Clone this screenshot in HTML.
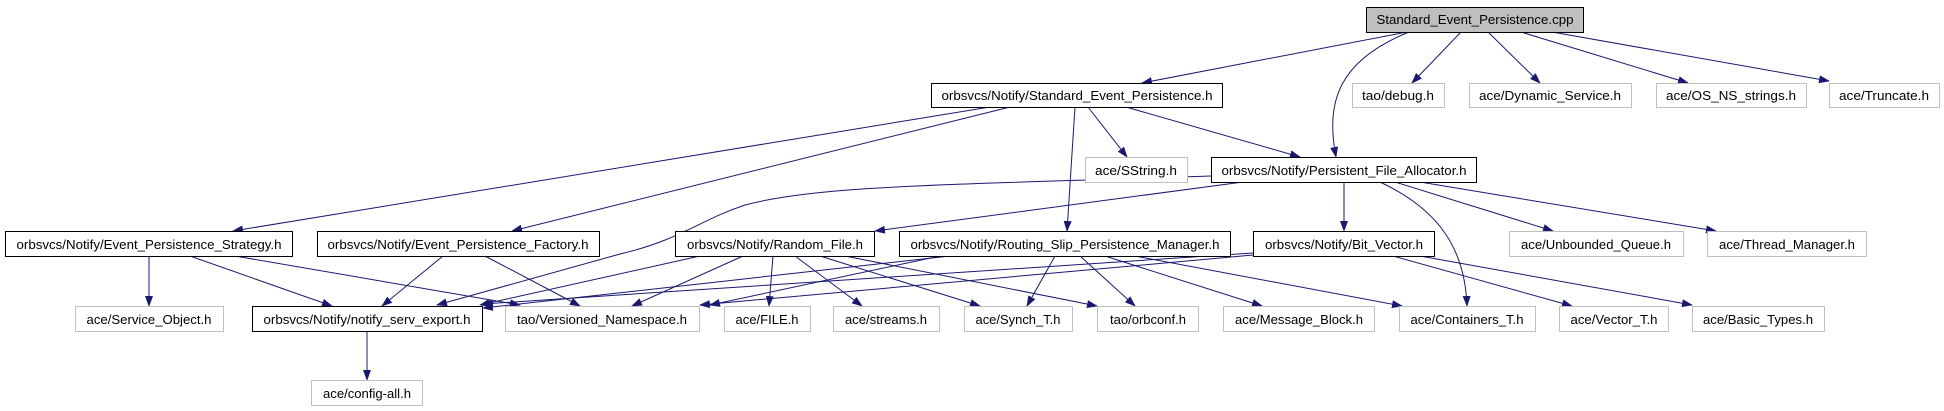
<!DOCTYPE html>
<html><head><meta charset="utf-8"><style>
html,body{margin:0;padding:0;background:#fff;}
svg{display:block;}
text{font-family:"Liberation Sans",Helvetica,Arial,sans-serif;font-size:13px;fill:#000;}
</style></head><body>
<svg width="1944" height="411" viewBox="0 0 1944 411" xmlns="http://www.w3.org/2000/svg">
<defs>
<marker id="a" markerWidth="11" markerHeight="8" refX="10" refY="4" orient="auto" markerUnits="userSpaceOnUse">
<path d="M0,0 L11,4 L0,8 z" fill="#191970"/>
</marker>
</defs>
<g stroke="#191970" stroke-width="1" fill="none" marker-end="url(#a)">
<line x1="1407" y1="32" x2="1142" y2="83"/>
<path d="M1409,32 C1340,60 1325,100 1336,157"/>
<line x1="1461" y1="32" x2="1412" y2="83"/>
<line x1="1488" y1="32" x2="1540" y2="83"/>
<line x1="1521" y1="32" x2="1688" y2="83"/>
<line x1="1552" y1="32" x2="1829" y2="81"/>
<line x1="990" y1="107" x2="233" y2="231"/>
<line x1="1010" y1="107" x2="512" y2="231"/>
<line x1="1075" y1="107" x2="1067" y2="231"/>
<line x1="1088" y1="107" x2="1127" y2="157"/>
<line x1="1126" y1="107" x2="1300" y2="157"/>
<path d="M1211,176 C950,185 820,185 745,205 C700,220 680,240 620,254 L437,305"/>
<line x1="1243" y1="182" x2="875" y2="231"/>
<line x1="1344" y1="182" x2="1344" y2="231"/>
<path d="M1380,182 C1440,210 1465,250 1467,306"/>
<line x1="1395" y1="182" x2="1553" y2="231"/>
<line x1="1420" y1="182" x2="1716" y2="231"/>
<line x1="149" y1="256" x2="149" y2="306"/>
<line x1="190" y1="256" x2="332" y2="306"/>
<line x1="235" y1="256" x2="520" y2="305"/>
<line x1="443" y1="256" x2="382" y2="306"/>
<line x1="485" y1="256" x2="580" y2="306"/>
<line x1="700" y1="256" x2="480" y2="305"/>
<line x1="743" y1="256" x2="632" y2="306"/>
<line x1="773" y1="256" x2="769" y2="306"/>
<line x1="795" y1="256" x2="862" y2="306"/>
<line x1="820" y1="256" x2="980" y2="306"/>
<line x1="845" y1="256" x2="1097" y2="306"/>
<line x1="950" y1="256" x2="483" y2="308"/>
<line x1="940" y1="256" x2="710" y2="305"/>
<line x1="1055" y1="256" x2="1027" y2="306"/>
<line x1="1080" y1="256" x2="1135" y2="306"/>
<line x1="1105" y1="256" x2="1262" y2="306"/>
<line x1="1135" y1="256" x2="1402" y2="306"/>
<line x1="1253" y1="255" x2="700" y2="305"/>
<line x1="1253" y1="253" x2="483" y2="304"/>
<line x1="1393" y1="256" x2="1572" y2="306"/>
<line x1="1420" y1="256" x2="1692" y2="305"/>
<line x1="367" y1="331" x2="367" y2="380"/>
</g>
<g stroke-width="1">
<rect x="1366.5" y="7.5" width="217" height="25" fill="#bfbfbf" stroke="#000"/>
<rect x="931.5" y="83.5" width="291" height="24" fill="#fff" stroke="#000"/>
<rect x="1352.5" y="83.5" width="92" height="24" fill="#fff" stroke="#bfbfbf"/>
<rect x="1469.5" y="83.5" width="162" height="24" fill="#fff" stroke="#bfbfbf"/>
<rect x="1656.5" y="83.5" width="150" height="24" fill="#fff" stroke="#bfbfbf"/>
<rect x="1829.5" y="83.5" width="110" height="24" fill="#fff" stroke="#bfbfbf"/>
<rect x="1085.5" y="157.5" width="102" height="25" fill="#fff" stroke="#bfbfbf"/>
<rect x="1211.5" y="157.5" width="265" height="25" fill="#fff" stroke="#000"/>
<rect x="5.5" y="231.5" width="287" height="25" fill="#fff" stroke="#000"/>
<rect x="317.5" y="231.5" width="282" height="25" fill="#fff" stroke="#000"/>
<rect x="675.5" y="231.5" width="199" height="25" fill="#fff" stroke="#000"/>
<rect x="899.5" y="231.5" width="331" height="25" fill="#fff" stroke="#000"/>
<rect x="1253.5" y="231.5" width="181" height="25" fill="#fff" stroke="#000"/>
<rect x="1509.5" y="231.5" width="174" height="25" fill="#fff" stroke="#bfbfbf"/>
<rect x="1707.5" y="231.5" width="159" height="25" fill="#fff" stroke="#bfbfbf"/>
<rect x="75.5" y="306.5" width="148" height="25" fill="#fff" stroke="#bfbfbf"/>
<rect x="252.5" y="306.5" width="230" height="25" fill="#fff" stroke="#000"/>
<rect x="505.5" y="306.5" width="194" height="25" fill="#fff" stroke="#bfbfbf"/>
<rect x="724.5" y="306.5" width="86" height="25" fill="#fff" stroke="#bfbfbf"/>
<rect x="833.5" y="306.5" width="106" height="25" fill="#fff" stroke="#bfbfbf"/>
<rect x="964.5" y="306.5" width="108" height="25" fill="#fff" stroke="#bfbfbf"/>
<rect x="1097.5" y="306.5" width="101" height="25" fill="#fff" stroke="#bfbfbf"/>
<rect x="1223.5" y="306.5" width="151" height="25" fill="#fff" stroke="#bfbfbf"/>
<rect x="1399.5" y="306.5" width="136" height="25" fill="#fff" stroke="#bfbfbf"/>
<rect x="1559.5" y="306.5" width="109" height="25" fill="#fff" stroke="#bfbfbf"/>
<rect x="1692.5" y="306.5" width="132" height="25" fill="#fff" stroke="#bfbfbf"/>
<rect x="311.5" y="380.5" width="111" height="25" fill="#fff" stroke="#bfbfbf"/>
</g>
<g text-anchor="middle" lengthAdjust="spacingAndGlyphs">
<text x="1475" y="24" textLength="197" lengthAdjust="spacingAndGlyphs">Standard_Event_Persistence.cpp</text>
<text x="1077" y="100" textLength="271" lengthAdjust="spacingAndGlyphs">orbsvcs/Notify/Standard_Event_Persistence.h</text>
<text x="1398" y="100" textLength="72" lengthAdjust="spacingAndGlyphs">tao/debug.h</text>
<text x="1550" y="100" textLength="142" lengthAdjust="spacingAndGlyphs">ace/Dynamic_Service.h</text>
<text x="1731" y="100" textLength="130" lengthAdjust="spacingAndGlyphs">ace/OS_NS_strings.h</text>
<text x="1884" y="100" textLength="90" lengthAdjust="spacingAndGlyphs">ace/Truncate.h</text>
<text x="1136" y="175" textLength="82" lengthAdjust="spacingAndGlyphs">ace/SString.h</text>
<text x="1344" y="175" textLength="245" lengthAdjust="spacingAndGlyphs">orbsvcs/Notify/Persistent_File_Allocator.h</text>
<text x="149" y="249" textLength="265" lengthAdjust="spacingAndGlyphs">orbsvcs/Notify/Event_Persistence_Strategy.h</text>
<text x="458" y="249" textLength="261" lengthAdjust="spacingAndGlyphs">orbsvcs/Notify/Event_Persistence_Factory.h</text>
<text x="775" y="249" textLength="176" lengthAdjust="spacingAndGlyphs">orbsvcs/Notify/Random_File.h</text>
<text x="1065" y="249" textLength="309" lengthAdjust="spacingAndGlyphs">orbsvcs/Notify/Routing_Slip_Persistence_Manager.h</text>
<text x="1344" y="249" textLength="158" lengthAdjust="spacingAndGlyphs">orbsvcs/Notify/Bit_Vector.h</text>
<text x="1596" y="249" textLength="150" lengthAdjust="spacingAndGlyphs">ace/Unbounded_Queue.h</text>
<text x="1787" y="249" textLength="136" lengthAdjust="spacingAndGlyphs">ace/Thread_Manager.h</text>
<text x="149" y="324" textLength="125" lengthAdjust="spacingAndGlyphs">ace/Service_Object.h</text>
<text x="367" y="324" textLength="207" lengthAdjust="spacingAndGlyphs">orbsvcs/Notify/notify_serv_export.h</text>
<text x="602" y="324" textLength="170" lengthAdjust="spacingAndGlyphs">tao/Versioned_Namespace.h</text>
<text x="767" y="324" textLength="63" lengthAdjust="spacingAndGlyphs">ace/FILE.h</text>
<text x="886" y="324" textLength="82" lengthAdjust="spacingAndGlyphs">ace/streams.h</text>
<text x="1018" y="324" textLength="85" lengthAdjust="spacingAndGlyphs">ace/Synch_T.h</text>
<text x="1148" y="324" textLength="76" lengthAdjust="spacingAndGlyphs">tao/orbconf.h</text>
<text x="1299" y="324" textLength="128" lengthAdjust="spacingAndGlyphs">ace/Message_Block.h</text>
<text x="1467" y="324" textLength="113" lengthAdjust="spacingAndGlyphs">ace/Containers_T.h</text>
<text x="1614" y="324" textLength="87" lengthAdjust="spacingAndGlyphs">ace/Vector_T.h</text>
<text x="1758" y="324" textLength="110" lengthAdjust="spacingAndGlyphs">ace/Basic_Types.h</text>
<text x="367" y="398" textLength="88" lengthAdjust="spacingAndGlyphs">ace/config-all.h</text>
</g>
</svg>
</body></html>
